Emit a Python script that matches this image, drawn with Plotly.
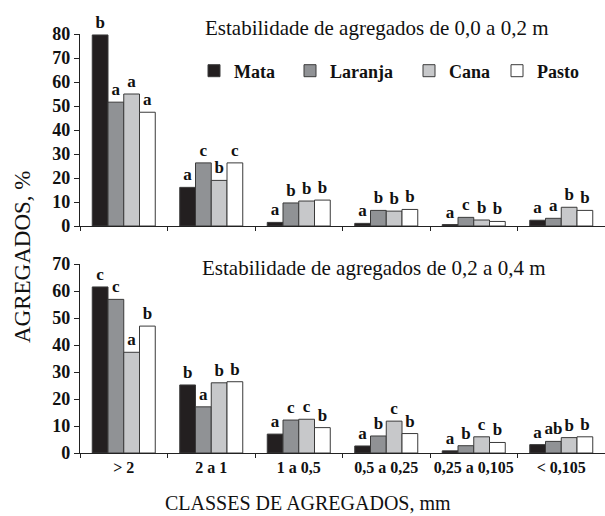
import plotly.graph_objects as go

categories = ["> 2", "2 a 1", "1 a 0,5", "0,5 a 0,25", "0,25 a 0,105", "< 0,105"]
series_names = ["Mata", "Laranja", "Cana", "Pasto"]
colors = ["#231f20", "#909295", "#c7c8ca", "#ffffff"]

# 0,0 a 0,2 m
top_mata = [79.6, 16.1, 1.5, 1.1, 0.6, 2.4]
top_laranja = [51.6, 26.3, 9.6, 6.5, 3.6, 3.2]
top_cana = [55.0, 19.0, 10.4, 6.2, 2.5, 7.8]
top_pasto = [47.4, 26.3, 10.8, 6.9, 1.9, 6.5]
top_letters_mata = ["b", "a", "a", "a", "a", "a"]
top_letters_laranja = ["a", "c", "b", "b", "c", "a"]
top_letters_cana = ["a", "b", "b", "b", "b", "b"]
top_letters_pasto = ["a", "c", "b", "b", "b", "b"]

# 0,2 a 0,4 m
bot_mata = [61.5, 25.2, 7.0, 2.6, 0.8, 3.1]
bot_laranja = [56.9, 17.1, 12.2, 6.3, 2.7, 4.3]
bot_cana = [37.3, 26.0, 12.5, 11.8, 6.0, 5.7]
bot_pasto = [47.0, 26.4, 9.4, 7.2, 3.9, 6.0]
bot_letters_mata = ["c", "b", "a", "a", "a", "a"]
bot_letters_laranja = ["c", "a", "c", "b", "b", "ab"]
bot_letters_cana = ["a", "b", "c", "c", "c", "b"]
bot_letters_pasto = ["b", "b", "b", "b", "b", "b"]

top_title = "Estabilidade de agregados de 0,0 a 0,2 m"
bot_title = "Estabilidade de agregados de 0,2 a 0,4 m"
y_title = "AGREGADOS, %"
x_title = "CLASSES DE AGREGADOS, mm"

SERIF = "Liberation Serif"
W, H = 605, 516

top_vals = [top_mata, top_laranja, top_cana, top_pasto]
top_lets = [top_letters_mata, top_letters_laranja, top_letters_cana, top_letters_pasto]
bot_vals = [bot_mata, bot_laranja, bot_cana, bot_pasto]
bot_lets = [bot_letters_mata, bot_letters_laranja, bot_letters_cana, bot_letters_pasto]

legend_ids = ["legend", "legend2", "legend3", "legend4"]
legend_x_px = [194, 290, 409, 497]

fig = go.Figure()
for i, name in enumerate(series_names):
    common = dict(
        marker=dict(color=colors[i], line=dict(color="#3a3a3a", width=1)),
        textposition="outside",
        textfont=dict(family=SERIF, size=17, color="#111", weight="bold"),
        cliponaxis=False,
        constraintext="none",
    )
    fig.add_trace(go.Bar(x=categories, y=top_vals[i], text=top_lets[i], name=name,
                         xaxis="x", yaxis="y", showlegend=True,
                         legend=legend_ids[i], **common))
    fig.add_trace(go.Bar(x=categories, y=bot_vals[i], text=bot_lets[i], name=name,
                         xaxis="x2", yaxis="y2", showlegend=False, **common))

xdom = [80 / W, 1.0]
top_dom = [(H - 226) / H, (H - 34) / H]
bot_dom = [(H - 453) / H, (H - 264) / H]

axis_common = dict(showline=True, linecolor="#222", linewidth=1.2, ticks="outside",
                   tickcolor="#222", showgrid=False, zeroline=False, automargin=False)
tickfont = dict(family=SERIF, size=18, color="#111", weight="bold")

layout = dict(
    width=W, height=H, template="none",
    paper_bgcolor="white", plot_bgcolor="white",
    margin=dict(l=0, r=0, t=0, b=0),
    barmode="group", bargap=0.28, bargroupgap=0,
    xaxis=dict(domain=xdom, anchor="y", type="category", showticklabels=False,
               tickson="boundaries", ticklen=4, **axis_common),
    yaxis=dict(domain=top_dom, anchor="x", range=[0, 80], dtick=10, ticklen=5,
               tickfont=tickfont, **axis_common),
    xaxis2=dict(domain=xdom, anchor="y2", type="category", tickson="boundaries",
                ticklen=4, tickangle=0,
                tickfont=dict(family=SERIF, size=16, color="#111", weight="bold"),
                **axis_common),
    yaxis2=dict(domain=bot_dom, anchor="x2", range=[0, 70], dtick=10, ticklen=5,
                tickfont=tickfont, **axis_common),
    annotations=[
        dict(text=top_title, x=376 / W, y=(H - 28) / H, xref="paper", yref="paper",
             xanchor="center", yanchor="middle",
             showarrow=False, font=dict(family=SERIF, size=21, color="#111")),
        dict(text=bot_title, x=373 / W, y=(H - 268) / H, xref="paper", yref="paper",
             xanchor="center", yanchor="middle",
             showarrow=False, font=dict(family=SERIF, size=21, color="#111")),
        dict(text=y_title, x=22 / W, y=(H - 257) / H, xref="paper", yref="paper",
             xanchor="center", yanchor="middle",
             showarrow=False, textangle=-90, font=dict(family=SERIF, size=23, color="#111")),
        dict(text=x_title, x=308 / W, y=(H - 503) / H, xref="paper", yref="paper",
             xanchor="center", yanchor="middle",
             showarrow=False, font=dict(family=SERIF, size=20, color="#111")),
    ],
)
for lid, lx in zip(legend_ids, legend_x_px):
    layout[lid] = dict(x=lx / W, xanchor="left", y=(H - 71) / H, yanchor="middle",
                       orientation="h", bgcolor="rgba(0,0,0,0)", borderwidth=0,
                       font=dict(family=SERIF, size=18, color="#111", weight="bold"))

fig.update_layout(**layout)
fig.write_html("out.html", config={"displayModeBar": False},
               post_script="document.body.style.margin='0';document.body.style.overflow='hidden';")
